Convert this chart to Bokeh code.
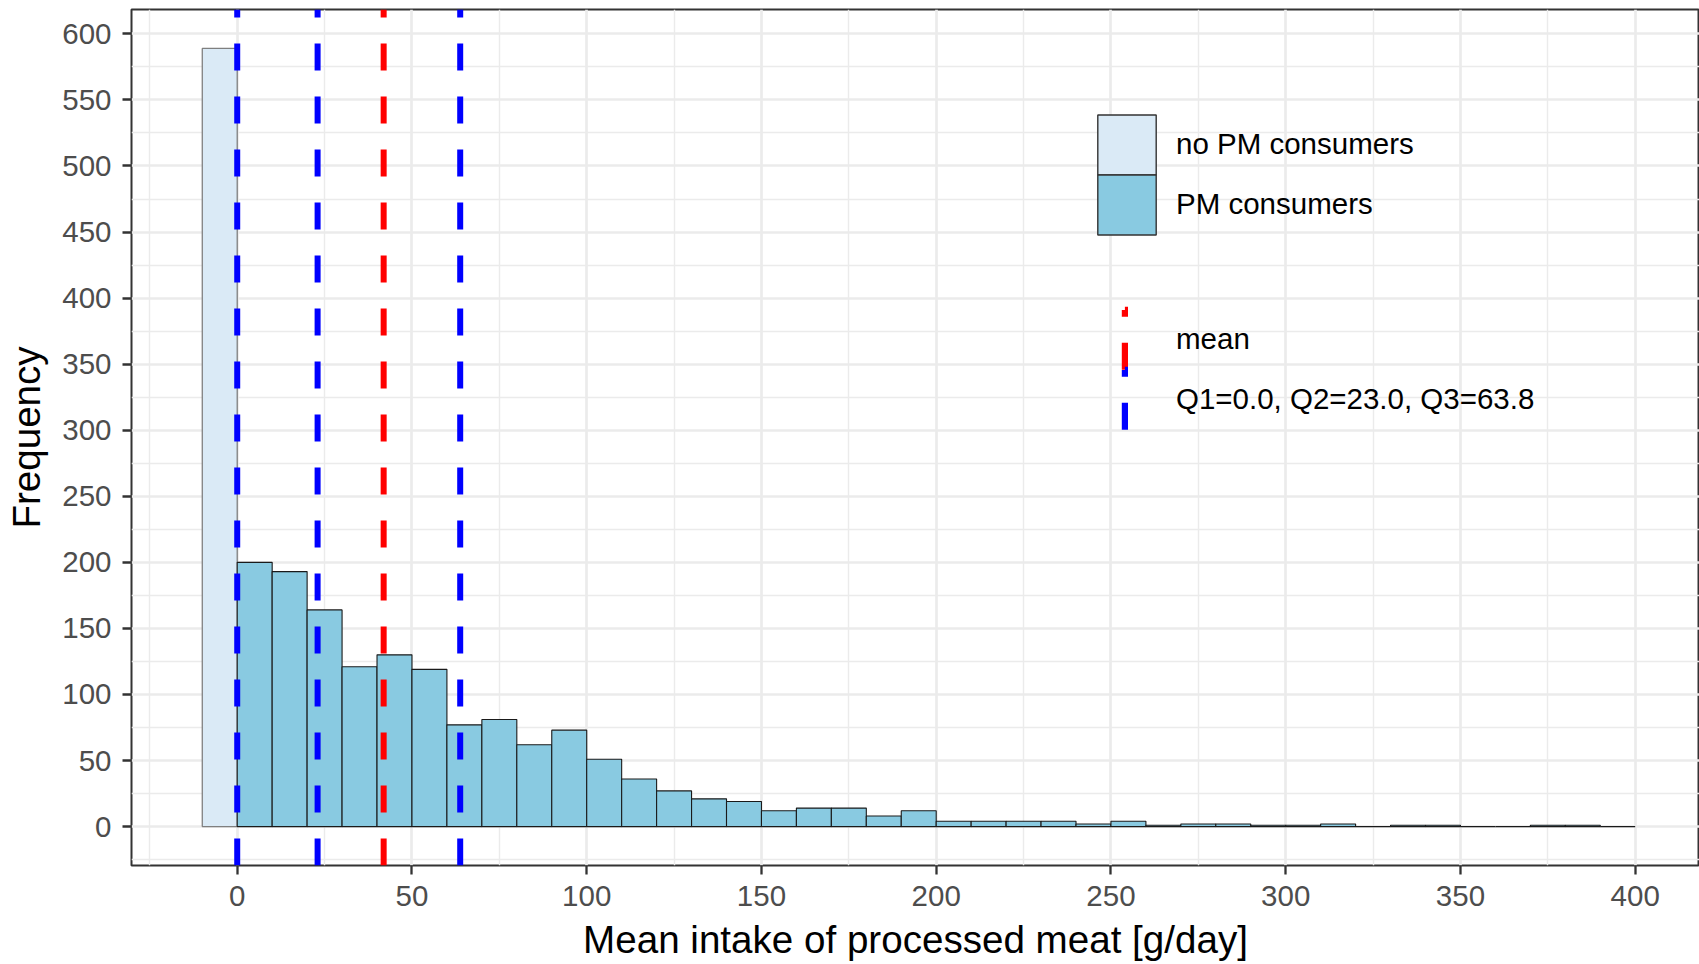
from bokeh.plotting import figure
from bokeh.models import (ColumnDataSource, Range1d, FixedTicker, Legend, LegendItem)
from bokeh.embed import file_html
from bokeh.resources import INLINE

# ---------------- data ----------------
bin_width = 10
no_pm_edges = [-10, 0]
no_pm_counts = [589]
pm_start = 0
pm_counts = [200, 193, 164, 121, 130, 119, 77, 81, 62, 73,
             51, 36, 27, 21, 19, 12, 14, 14, 8, 12,
             4, 4, 4, 4, 2, 4, 1, 2, 2, 1,
             1, 2, 0, 1, 1, 0, 0, 1, 1, 0]
mean_value = 41.9
quartiles = [0.0, 23.0, 63.8]
x_ticks = [0, 50, 100, 150, 200, 250, 300, 350, 400]
y_ticks = [0, 50, 100, 150, 200, 250, 300, 350, 400, 450, 500, 550, 600]
legend_fill_labels = ["no PM consumers", "PM consumers"]
legend_line_labels = ["mean", "Q1=0.0, Q2=23.0, Q3=63.8"]
x_title = "Mean intake of processed meat [g/day]"
y_title = "Frequency"

pm_left = [pm_start + i * bin_width for i in range(len(pm_counts))]
pm_right = [l + bin_width for l in pm_left]

FONT = "Liberation Sans"
LIGHT = "#DAEAF6"
SKY = "#89CAE1"
DASH = "27 26"
# vertical dashed legend key: only the right edge of a thin box gets dashes
KEY_DASH = "0 27 7 26 27 88"
NAN = float("nan")

x_start, x_end = -30.25, 418.4
y_start, y_end = -29.45, 618.45

p = figure(width=1699, height=964, output_backend="svg", toolbar_location=None,
           x_range=Range1d(x_start, x_end), y_range=Range1d(y_start, y_end),
           min_border_left=131, min_border_top=9, min_border_right=0, min_border_bottom=99)
p.background_fill_color = "white"
p.border_fill_color = "white"
p.outline_line_color = "#333333"
p.outline_line_width = 2

# grids / ticks
x_minor = [v - 25 for v in x_ticks] + [x_ticks[-1] + 25]
y_minor = [v - 25 for v in y_ticks] + [y_ticks[-1] + 25]
p.xaxis.ticker = FixedTicker(ticks=x_ticks, minor_ticks=x_minor)
p.yaxis.ticker = FixedTicker(ticks=y_ticks, minor_ticks=y_minor)
for g in (p.xgrid, p.ygrid):
    g.grid_line_color = "#EBEBEB"
    g.grid_line_width = 2.7
    g.minor_grid_line_color = "#EBEBEB"
    g.minor_grid_line_width = 1.4

for ax in (p.xaxis, p.yaxis):
    ax.axis_line_color = None
    ax.major_tick_out = 9
    ax.major_tick_in = 0
    ax.minor_tick_out = 0
    ax.minor_tick_in = 0
    ax.major_tick_line_color = "#333333"
    ax.major_tick_line_width = 2.3
    ax.major_label_text_font = FONT
    ax.major_label_text_font_size = "29.5px"
    ax.major_label_text_color = "#4D4D4D"
    ax.axis_label_text_font = FONT
    ax.axis_label_text_font_size = "38.6px"
    ax.axis_label_text_font_style = "normal"
    ax.axis_label_text_color = "black"
p.xaxis.axis_label = x_title
p.yaxis.axis_label = y_title
p.xaxis.major_label_standoff = 11
p.yaxis.major_label_standoff = 11
p.xaxis.axis_label_standoff = 9
p.yaxis.axis_label_standoff = 11

# histogram bars
src_no = ColumnDataSource(dict(left=no_pm_edges[:-1], right=no_pm_edges[1:],
                               top=no_pm_counts, bottom=[0] * len(no_pm_counts)))
p.quad(left="left", right="right", top="top", bottom="bottom", source=src_no,
       fill_color=LIGHT, line_color="#7F7F7F", line_width=1.3)
src_pm = ColumnDataSource(dict(left=pm_left, right=pm_right, top=pm_counts,
                               bottom=[0] * len(pm_counts)))
p.quad(left="left", right="right", top="top", bottom="bottom", source=src_pm,
       fill_color=SKY, line_color="#1A1A1A", line_width=1.1)

# vertical reference lines (drawn bottom -> top so the dash pattern starts at the bottom)
q_src = ColumnDataSource(dict(x=quartiles, y0=[y_start] * len(quartiles), y1=[y_end] * len(quartiles)))
p.segment(x0="x", x1="x", y0="y0", y1="y1", source=q_src,
          line_color="#0000FF", line_width=6, line_dash=DASH)
m_src = ColumnDataSource(dict(x=[mean_value], y0=[y_start], y1=[y_end]))
p.segment(x0="x", x1="x", y0="y0", y1="y1", source=m_src,
          line_color="#FF0000", line_width=6, line_dash=DASH)

# legend-only renderers (NaN data: nothing is drawn in the plot)
def nan_quad():
    return ColumnDataSource(dict(left=[NAN], right=[NAN], top=[NAN], bottom=[NAN]))

r_leg_no = p.quad(left="left", right="right", top="top", bottom="bottom", source=nan_quad(),
                  fill_color=LIGHT, line_color="#333333", line_width=1.4)
r_leg_pm = p.quad(left="left", right="right", top="top", bottom="bottom", source=nan_quad(),
                  fill_color=SKY, line_color="#333333", line_width=1.4)
r_leg_mean = p.quad(left="left", right="right", top="top", bottom="bottom", source=nan_quad(),
                    fill_color=None, line_color="#FF0000", line_width=6.6, line_dash=KEY_DASH,
                    line_cap="butt", line_join="miter")
r_leg_q = p.quad(left="left", right="right", top="top", bottom="bottom", source=nan_quad(),
                 fill_color=None, line_color="#0000FF", line_width=6.6, line_dash=KEY_DASH,
                 line_cap="butt", line_join="miter")


def one_item_legend(label, renderer, loc, gw, standoff):
    return Legend(items=[LegendItem(label=label, renderers=[renderer], index=0)],
                  location=loc, orientation="vertical", padding=0, margin=0, spacing=0,
                  glyph_width=gw, glyph_height=75, label_standoff=standoff, label_height=20,
                  label_text_font=FONT, label_text_font_size="29.5px", label_text_color="black",
                  border_line_color=None, background_fill_alpha=0)

legends = [
    one_item_legend(legend_fill_labels[0], r_leg_no, (959, 683.5), 73, 13),
    one_item_legend(legend_fill_labels[1], r_leg_pm, (959, 623.5), 73, 13),
    one_item_legend(legend_line_labels[0], r_leg_mean, (963, 488.5), 34, 48),
    one_item_legend(legend_line_labels[1], r_leg_q, (963, 428.5), 34, 48),
]
for lg in legends:
    p.add_layout(lg, "center")

open("out.html", "w").write(file_html(p, INLINE))
